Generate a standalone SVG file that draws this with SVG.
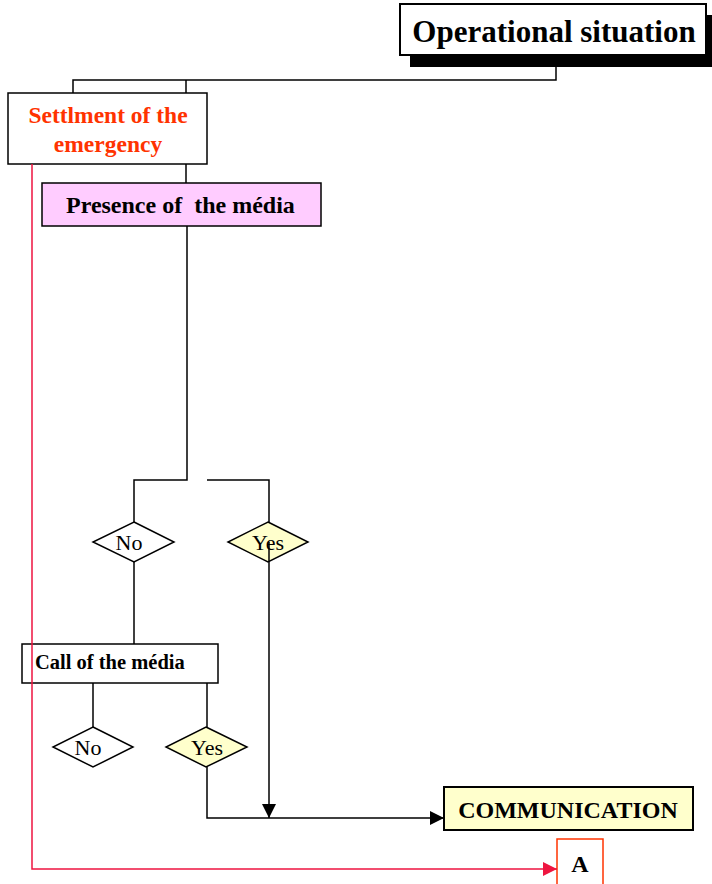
<svg xmlns="http://www.w3.org/2000/svg" width="712" height="884" viewBox="0 0 712 884">
<style>
.t{font-family:"Liberation Serif","Times New Roman",serif;}
.b{font-weight:bold;}
.box{fill:#fff;stroke:#000;stroke-width:1.5;}
.ln{fill:none;stroke:#000;stroke-width:1.5;}
.red{fill:none;stroke:#ee1540;stroke-width:1.5;}
</style>
<defs>
<marker id="ah" markerWidth="14" markerHeight="14" refX="14" refY="7" orient="auto" markerUnits="userSpaceOnUse"><path d="M0,0 L14,7 L0,14 z" fill="#000"/></marker>
<marker id="ahr" markerWidth="14" markerHeight="14" refX="14" refY="7" orient="auto" markerUnits="userSpaceOnUse"><path d="M0,0 L14,7 L0,14 z" fill="#ee1540"/></marker>
</defs>
<g id="operational">
<rect x="410" y="15" width="302" height="52" fill="#000"/>
<rect x="400" y="4" width="306" height="51" fill="#fff" stroke="#000" stroke-width="2"/>
<text class="t b" x="554" y="42" font-size="31" text-anchor="middle">Operational situation</text>
</g>
<g id="settlement">
<rect class="box" x="8" y="93" width="199" height="71"/>
<text class="t b" x="108" y="123" font-size="23.5" text-anchor="middle" fill="#ff3300">Settlment of the</text>
<text class="t b" x="108" y="152" font-size="23.5" text-anchor="middle" fill="#ff3300">emergency</text>
</g>
<g id="presence">
<rect x="42" y="183" width="279" height="43" fill="#ffccff" stroke="#000" stroke-width="1.5"/>
<text class="t b" x="66" y="213" font-size="24" xml:space="preserve">Presence of  the média</text>
</g>
<g id="no1">
<polygon points="134,522 174,542 134,562 93,542" fill="#fff" stroke="#000" stroke-width="1.5"/>
<text class="t" x="129" y="550" font-size="22" text-anchor="middle">No</text>
</g>
<g id="yes1">
<polygon points="268,522 308,542 268,562 228,542" fill="#ffffcc" stroke="#000" stroke-width="1.5"/>
<text class="t" x="268" y="550" font-size="22" text-anchor="middle">Yes</text>
</g>
<g id="call">
<rect class="box" x="22" y="644" width="196" height="39"/>
<text class="t b" x="35" y="669" font-size="20.5">Call of the média</text>
</g>
<g id="no2">
<polygon points="93,727 133,747 93,767 53,747" fill="#fff" stroke="#000" stroke-width="1.5"/>
<text class="t" x="88" y="755" font-size="22" text-anchor="middle">No</text>
</g>
<g id="yes2">
<polygon points="206,727 247,747 206,767 166,747" fill="#ffffcc" stroke="#000" stroke-width="1.5"/>
<text class="t" x="207" y="755" font-size="22" text-anchor="middle">Yes</text>
</g>
<g id="communication">
<rect x="444" y="787" width="249" height="43" fill="#ffffcc" stroke="#000" stroke-width="2"/>
<text class="t b" x="568" y="818" font-size="24" text-anchor="middle">COMMUNICATION</text>
</g>
<g id="a">
<rect x="557" y="839" width="46" height="60" fill="#fff" stroke="#ff3300" stroke-width="1.5"/>
<text class="t b" x="580" y="872" font-size="24" text-anchor="middle">A</text>
</g>
<g id="connectors">
<path class="ln" d="M556,55 V80 H73 V93"/>
<path class="ln" d="M186,80 V93"/>
<path class="ln" d="M186,164 V183"/>
<path class="ln" d="M187,226 V480 H134 V522"/>
<path class="ln" d="M207,480 H269 V522"/>
<path class="ln" d="M134,562 V644"/>
<path class="ln" d="M269,542 V818" marker-end="url(#ah)"/>
<path class="ln" d="M93,683 V727"/>
<path class="ln" d="M207,683 V727"/>
<path class="ln" d="M207,767 V818 H444" marker-end="url(#ah)"/>
<path class="red" d="M32,164 V869 H557" marker-end="url(#ahr)"/>
</g>
</svg>
